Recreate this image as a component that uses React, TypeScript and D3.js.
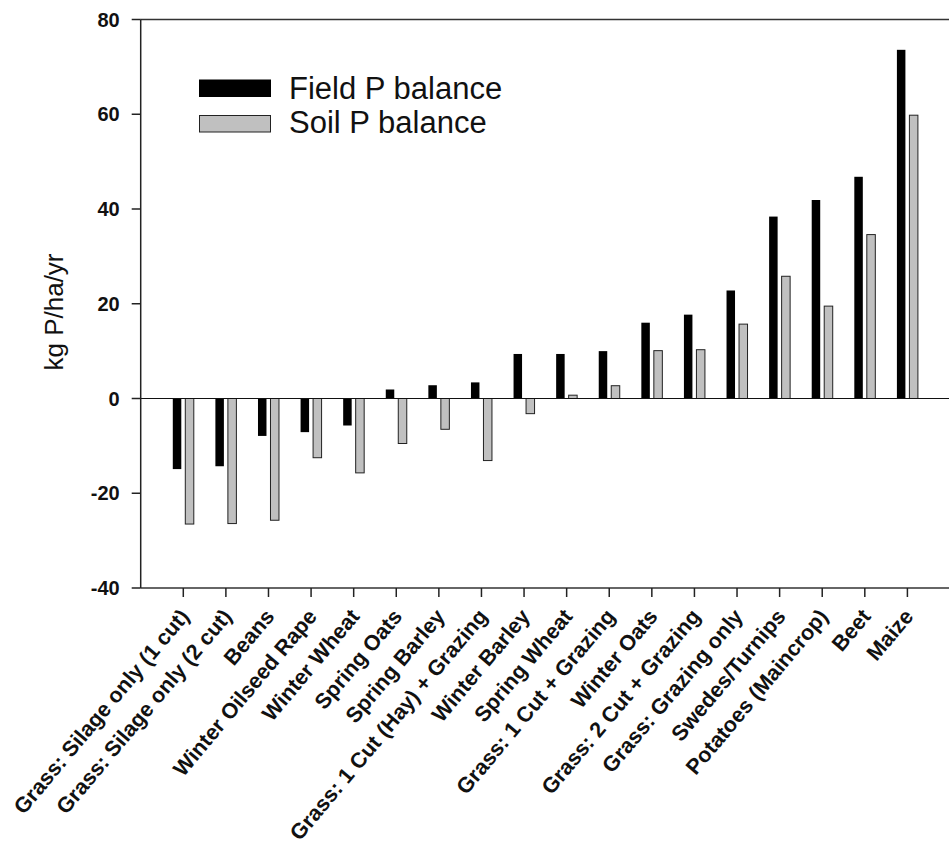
import React from "react";
import * as d3 from "d3";

const categories = [
  "Grass: Silage only (1 cut)",
  "Grass: Silage only (2 cut)",
  "Beans",
  "Winter Oilseed Rape",
  "Winter Wheat",
  "Spring Oats",
  "Spring Barley",
  "Grass: 1 Cut (Hay) + Grazing",
  "Winter Barley",
  "Spring Wheat",
  "Grass: 1 Cut + Grazing",
  "Winter Oats",
  "Grass: 2 Cut + Grazing",
  "Grass: Grazing only",
  "Swedes/Turnips",
  "Potatoes (Maincrop)",
  "Beet",
  "Maize",
];
const fieldP = [-14.9, -14.3, -7.9, -7.1, -5.7, 1.9, 2.8, 3.4, 9.4, 9.4, 10.0, 16.0, 17.7, 22.8, 38.4, 41.9, 46.8, 73.6];
const soilP = [-26.5, -26.4, -25.7, -12.5, -15.7, -9.5, -6.5, -13.1, -3.2, 0.7, 2.7, 10.1, 10.3, 15.7, 25.8, 19.5, 34.6, 59.8];
const yTicks = [-40, -20, 0, 20, 40, 60, 80];
const legendLabels = ["Field P balance", "Soil P balance"];

export default function App() {
  const W = 949, H = 847;
  const x0 = 140.7, x1 = 950;
  const x = d3.scaleLinear().domain([0, categories.length + 1]).range([x0, x1]);
  const y = d3.scaleLinear().domain([-40, 80]).range([588, 19.5]);
  const bw = 8.5;
  const font = "'Liberation Sans', Arial, sans-serif";
  return (
    <svg width={W} height={H} style={{ position: "absolute", left: 0, top: 0 }}>
      <rect x={0} y={0} width={W} height={H} fill="#fff" />
      {categories.map((c, i) => {
        const cx = x(i + 1);
        const fv = fieldP[i], sv = soilP[i];
        return (
          <g key={c}>
            <rect x={cx - 10.5} width={bw} y={Math.min(y(fv), y(0))} height={Math.abs(y(fv) - y(0))} fill="#000" />
            <rect x={cx + 2} width={bw} y={Math.min(y(sv), y(0))} height={Math.abs(y(sv) - y(0))} fill="#c0c0c0" stroke="#222" strokeWidth={1} />
          </g>
        );
      })}
      <line x1={x0} x2={x1} y1={y(0)} y2={y(0)} stroke="#111" strokeWidth={1.2} />
      <line x1={x0} x2={x1} y1={y(80)} y2={y(80)} stroke="#333" strokeWidth={1.5} />
      <line x1={x0} x2={x1} y1={y(-40)} y2={y(-40)} stroke="#333" strokeWidth={1.5} />
      <line x1={x0} x2={x0} y1={y(80)} y2={y(-40)} stroke="#222" strokeWidth={1.5} />
      {yTicks.map((t) => (
        <g key={t}>
          <line x1={x0 - 9} x2={x0} y1={y(t)} y2={y(t)} stroke="#222" strokeWidth={1.5} />
          <text x={x0 - 21} y={y(t) + 7} textAnchor="end" fontFamily={font} fontWeight="bold" fontSize={20} fill="#111">
            {t}
          </text>
        </g>
      ))}
      {categories.map((c, i) => {
        const cx = x(i + 1);
        return (
          <g key={"t" + c}>
            <line x1={cx} x2={cx} y1={y(-40)} y2={y(-40) + 9} stroke="#222" strokeWidth={1.5} />
            <text transform={`translate(${cx + 7},${y(-40) + 29}) rotate(-50)`} textAnchor="end" fontFamily={font} fontWeight="bold" fontSize={21.6} fill="#111">
              {c}
            </text>
          </g>
        );
      })}
      <text transform={`translate(63,312) rotate(-90)`} textAnchor="middle" fontFamily={font} fontSize={26} fill="#111">
        kg P/ha/yr
      </text>
      <rect x={199} y={79.5} width={72} height={17.5} fill="#000" />
      <rect x={199.5} y={115.5} width={71} height={16.5} fill="#c0c0c0" stroke="#222" strokeWidth={1} />
      <text x={289} y={99} fontFamily={font} fontSize={31} fill="#111">{legendLabels[0]}</text>
      <text x={289} y={133} fontFamily={font} fontSize={31} fill="#111">{legendLabels[1]}</text>
    </svg>
  );
}
